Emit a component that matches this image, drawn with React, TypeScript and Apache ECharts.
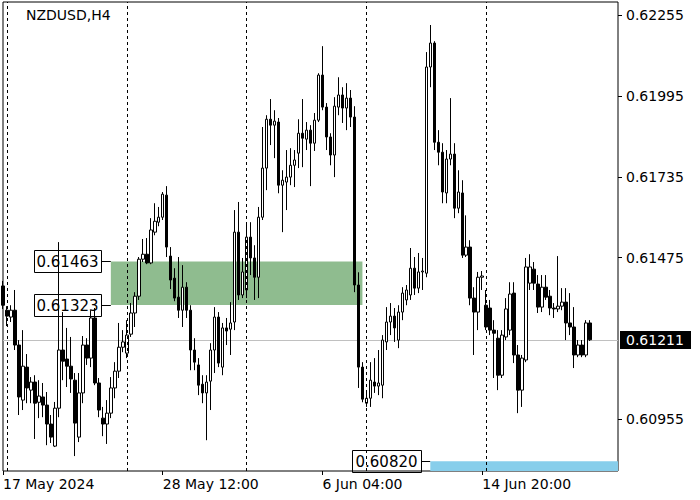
import React, { useEffect, useRef } from "react";
import * as echarts from "echarts";

const symbolTitle = "NZDUSD,H4";

const opens = [
  0.61384, 0.61306, 0.61284, 0.61306, 0.61194, 0.61017, 0.61123, 0.61049, 0.61075, 0.61010,
  0.61027, 0.61001, 0.60940, 0.60869, 0.60991, 0.61178, 0.61149, 0.61126, 0.61081, 0.60898,
  0.61040, 0.61194, 0.61152, 0.61281, 0.61072, 0.60959, 0.60940, 0.60975, 0.61056, 0.61110,
  0.61187, 0.61168, 0.61229, 0.61297, 0.61351, 0.61470, 0.61486, 0.61458, 0.61557, 0.61589,
  0.61605, 0.61676, 0.61480, 0.61409, 0.61348, 0.61306, 0.61380, 0.61306, 0.61178, 0.61130,
  0.61068, 0.61040, 0.61078, 0.61178, 0.61284, 0.61123, 0.61249, 0.61245, 0.61268, 0.61557,
  0.61355, 0.61371, 0.61541, 0.61474, 0.61412, 0.61605, 0.61763, 0.61920, 0.61901, 0.61911,
  0.61708, 0.61718, 0.61734, 0.61772, 0.61811, 0.61875, 0.61856, 0.61885, 0.61843, 0.61917,
  0.62062, 0.61959, 0.61863, 0.61805, 0.61959, 0.61998, 0.61956, 0.61988, 0.61927, 0.61387,
  0.61123, 0.61007, 0.61023, 0.61075, 0.61062, 0.61065, 0.61204, 0.61268, 0.61287, 0.61210,
  0.61300, 0.61339, 0.61355, 0.61441, 0.61377, 0.61429, 0.61425, 0.62088, 0.62165, 0.61846,
  0.61814, 0.61683, 0.61792, 0.61808, 0.61634, 0.61683, 0.61483, 0.61509, 0.61345, 0.61300,
  0.61412, 0.61322, 0.61313, 0.61242, 0.61216, 0.61097, 0.61220, 0.61242, 0.61361, 0.61162,
  0.61049, 0.61146, 0.61393, 0.61438, 0.61390, 0.61316, 0.61380, 0.61351, 0.61313, 0.61310,
  0.61319, 0.61332, 0.61265, 0.61252, 0.61162, 0.61194, 0.61162, 0.61265,
];

const closes = [
  0.61322, 0.61287, 0.61306, 0.61194, 0.61027, 0.61126, 0.61056, 0.61075, 0.61007, 0.61030,
  0.61001, 0.60940, 0.60898, 0.60991, 0.61178, 0.61142, 0.61126, 0.61085, 0.60943, 0.61040,
  0.61194, 0.61152, 0.61281, 0.61072, 0.60985, 0.60940, 0.60975, 0.61056, 0.61110, 0.61187,
  0.61204, 0.61226, 0.61297, 0.61351, 0.61470, 0.61486, 0.61458, 0.61564, 0.61592, 0.61605,
  0.61679, 0.61509, 0.61403, 0.61345, 0.61306, 0.61380, 0.61306, 0.61178, 0.61139, 0.61065,
  0.61040, 0.61075, 0.61178, 0.61284, 0.61136, 0.61249, 0.61239, 0.61265, 0.61557, 0.61355,
  0.61429, 0.61541, 0.61474, 0.61412, 0.61605, 0.61763, 0.61920, 0.61901, 0.61914, 0.61708,
  0.61724, 0.61734, 0.61772, 0.61789, 0.61875, 0.61859, 0.61885, 0.61843, 0.61917, 0.62062,
  0.61959, 0.61863, 0.61805, 0.61962, 0.61998, 0.61956, 0.61988, 0.61927, 0.61387, 0.61123,
  0.61020, 0.61023, 0.61081, 0.61062, 0.61072, 0.61210, 0.61268, 0.61287, 0.61249, 0.61300,
  0.61361, 0.61371, 0.61441, 0.61377, 0.61429, 0.61432, 0.62088, 0.62165, 0.61846, 0.61814,
  0.61686, 0.61792, 0.61808, 0.61634, 0.61686, 0.61483, 0.61509, 0.61345, 0.61300, 0.61412,
  0.61416, 0.61252, 0.61242, 0.61232, 0.61097, 0.61226, 0.61310, 0.61358, 0.61162, 0.61049,
  0.61152, 0.61445, 0.61445, 0.61393, 0.61316, 0.61380, 0.61348, 0.61313, 0.61310, 0.61319,
  0.61332, 0.61265, 0.61252, 0.61162, 0.61194, 0.61162, 0.61265, 0.61211,
];

const highs = [
  0.61400, 0.61319, 0.61322, 0.61371, 0.61210, 0.61242, 0.61165, 0.61091, 0.61097, 0.61081,
  0.61072, 0.61043, 0.60969, 0.61011, 0.61525, 0.61300, 0.61249, 0.61220, 0.61104, 0.61104,
  0.61223, 0.61216, 0.61306, 0.61313, 0.61088, 0.60995, 0.61017, 0.61091, 0.61139, 0.61265,
  0.61242, 0.61274, 0.61329, 0.61364, 0.61477, 0.61535, 0.61538, 0.61602, 0.61650, 0.61638,
  0.61686, 0.61705, 0.61509, 0.61441, 0.61477, 0.61451, 0.61396, 0.61322, 0.61216, 0.61152,
  0.61097, 0.61097, 0.61200, 0.61316, 0.61300, 0.61265, 0.61281, 0.61332, 0.61628, 0.61654,
  0.61474, 0.61589, 0.61589, 0.61515, 0.61638, 0.61895, 0.61933, 0.61985, 0.61949, 0.61924,
  0.61756, 0.61821, 0.61827, 0.61821, 0.61920, 0.61985, 0.61911, 0.61901, 0.61940, 0.62068,
  0.62155, 0.61972, 0.61875, 0.61991, 0.62055, 0.62023, 0.62036, 0.62014, 0.61962, 0.61428,
  0.61139, 0.61040, 0.61139, 0.61152, 0.61178, 0.61226, 0.61316, 0.61329, 0.61313, 0.61322,
  0.61380, 0.61387, 0.61506, 0.61477, 0.61490, 0.61474, 0.62136, 0.62223, 0.62171, 0.61885,
  0.61843, 0.61821, 0.61988, 0.61843, 0.61756, 0.61724, 0.61611, 0.61531, 0.61380, 0.61429,
  0.61432, 0.61371, 0.61339, 0.61274, 0.61242, 0.61242, 0.61345, 0.61396, 0.61396, 0.61194,
  0.61162, 0.61474, 0.61486, 0.61461, 0.61419, 0.61419, 0.61419, 0.61371, 0.61329, 0.61480,
  0.61377, 0.61377, 0.61361, 0.61316, 0.61210, 0.61210, 0.61274, 0.61274,
];

const lows = [
  0.61310, 0.61255, 0.61268, 0.61178, 0.60969, 0.60985, 0.61007, 0.61007, 0.60892, 0.60959,
  0.60962, 0.60872, 0.60879, 0.60866, 0.60962, 0.61081, 0.61059, 0.61040, 0.60837, 0.60882,
  0.61007, 0.61130, 0.61123, 0.61065, 0.60962, 0.60901, 0.60876, 0.60959, 0.61023, 0.61088,
  0.61171, 0.61152, 0.61220, 0.61252, 0.61339, 0.61461, 0.61454, 0.61454, 0.61547, 0.61576,
  0.61596, 0.61477, 0.61374, 0.61335, 0.61281, 0.61252, 0.61281, 0.61113, 0.61113, 0.61033,
  0.61007, 0.60888, 0.60985, 0.61104, 0.61123, 0.61097, 0.61194, 0.61162, 0.61242, 0.61339,
  0.61345, 0.61345, 0.61419, 0.61339, 0.61345, 0.61596, 0.61692, 0.61837, 0.61795, 0.61682,
  0.61557, 0.61628, 0.61708, 0.61702, 0.61763, 0.61766, 0.61821, 0.61705, 0.61818, 0.61911,
  0.61949, 0.61821, 0.61772, 0.61734, 0.61933, 0.61908, 0.61885, 0.61895, 0.61364, 0.61056,
  0.61010, 0.60995, 0.60995, 0.61040, 0.61033, 0.61023, 0.61178, 0.61226, 0.61204, 0.61184,
  0.61274, 0.61322, 0.61339, 0.61355, 0.61361, 0.61371, 0.61412, 0.62023, 0.61821, 0.61772,
  0.61650, 0.61650, 0.61772, 0.61602, 0.61618, 0.61474, 0.61477, 0.61322, 0.61162, 0.61242,
  0.61371, 0.61242, 0.61226, 0.61088, 0.61049, 0.61088, 0.61210, 0.61226, 0.61136, 0.60975,
  0.60995, 0.61139, 0.61371, 0.61371, 0.61297, 0.61300, 0.61339, 0.61290, 0.61281, 0.61300,
  0.61306, 0.61210, 0.61226, 0.61120, 0.61155, 0.61155, 0.61155, 0.61207,
];

const slotCount = 155;
const xTickIndex = [0, 40, 80, 120];
const xTickLabels = ["17 May 2024", "28 May 12:00", "6 Jun 04:00", "14 Jun 20:00"];
const weekSeparators = [1, 31, 61, 91, 121];
const yTicks = [0.60955, 0.61475, 0.61735, 0.61995, 0.62255];
const yMin = 0.60789;
const yMax = 0.62297;
const bidPrice = 0.61211;
const greenLevels = [0.61463, 0.61323];
const greenBars = [27, 90];
const blueLevel = 0.6082;
const blueBars = [107, 154];

const FONT = '"DejaVu Sans", Verdana, sans-serif';

export default function App() {
  const ref = useRef<HTMLDivElement>(null);

  useEffect(() => {
    document.body.style.margin = "0";
    if (!ref.current) return;
    const chart = echarts.init(ref.current, undefined, { renderer: "svg" });
    const categories = Array.from({ length: slotCount }, (_, i) => String(i));
    const candles = opens.map((o, i) => [o, closes[i], lows[i], highs[i]]);

    const option: any = {
      animation: false,
      backgroundColor: "#ffffff",
      grid: {
        left: 3,
        top: 2,
        width: 615,
        height: 469,
        show: true,
        borderColor: "#000",
        borderWidth: 1,
        backgroundColor: "#fff",
      },
      xAxis: {
        type: "category",
        data: categories,
        boundaryGap: false,
        axisLine: { show: false },
        axisTick: {
          show: true,
          length: 4,
          interval: (i: number) => xTickIndex.includes(i),
          lineStyle: { color: "#000" },
        },
        axisLabel: {
          show: true,
          interval: (i: number) => xTickIndex.includes(i),
          formatter: (v: string) => {
            const k = xTickIndex.indexOf(Number(v));
            return k >= 0 ? xTickLabels[k] : "";
          },
          align: "left",
          margin: 6,
          color: "#000",
          fontSize: 14,
          fontFamily: FONT,
        },
        splitLine: { show: false },
      },
      yAxis: {
        type: "value",
        position: "right",
        min: yMin,
        max: yMax,
        axisLine: { show: false },
        axisTick: {
          show: true,
          length: 4,
          customValues: yTicks,
          lineStyle: { color: "#000" },
        },
        axisLabel: {
          customValues: yTicks,
          formatter: (v: number) => v.toFixed(5),
          margin: 8,
          color: "#000",
          fontSize: 14,
          fontFamily: FONT,
        },
        splitLine: { show: false },
      },
      series: [
        {
          type: "line",
          data: [],
          silent: true,
          z: 1,
          markArea: {
            silent: true,
            data: [
              [
                { xAxis: String(greenBars[0]), yAxis: greenLevels[0], itemStyle: { color: "#8fbc8f", opacity: 1 } },
                { xAxis: String(greenBars[1]), yAxis: greenLevels[1] },
              ],
              [
                { xAxis: String(blueBars[0]), yAxis: blueLevel, itemStyle: { color: "#87ceeb", opacity: 1 } },
                { xAxis: String(blueBars[1]), yAxis: yMin },
              ],
            ],
          },
          markLine: {
            silent: true,
            symbol: ["none", "none"],
            label: { show: false },
            lineStyle: { color: "#000", type: [3, 3], width: 1 },
            data: weekSeparators.map((i) => ({ xAxis: String(i) })),
          },
        },
        {
          type: "candlestick",
          data: candles,
          barWidth: 3,
          z: 3,
          itemStyle: {
            color: "#ffffff",
            color0: "#000000",
            borderColor: "#000000",
            borderColor0: "#000000",
            borderWidth: 1,
          },
        },
      ],
    };
    chart.setOption(option);

    const px = (i: number, v: number) =>
      chart.convertToPixel({ xAxisIndex: 0, yAxisIndex: 0 }, [i, v]) as number[];

    const graphics: any[] = [];
    graphics.push({
      type: "text",
      style: { text: symbolTitle, x: 26, y: 15, fill: "#000", font: `14px ${FONT}`, verticalAlign: "middle" },
    });

    const pbid = px(0, bidPrice);
    const pbidEnd = px(slotCount - 1, bidPrice);
    const yb = Math.round(pbid[1]) + 0.5;
    graphics.push({
      type: "line",
      z: 0,
      shape: { x1: pbid[0], y1: yb, x2: pbidEnd[0], y2: yb },
      style: { stroke: "#c0c0c0", lineWidth: 1 },
    });

    const addBox = (xRight: number, yc: number, w: number, label: string, xTo: number) => {
      const y = Math.round(yc);
      const xr = Math.round(xRight);
      graphics.push({
        type: "rect",
        shape: { x: xr - w + 0.5, y: y - 11 + 0.5, width: w, height: 22 },
        style: { fill: "none", stroke: "#000", lineWidth: 1 },
      });
      graphics.push({
        type: "text",
        style: { text: label, x: xr - w / 2, y: y + 1, fill: "#000", font: `15px ${FONT}`, align: "center", verticalAlign: "middle" },
      });
      graphics.push({
        type: "line",
        shape: { x1: xr + 0.5, y1: y + 0.5, x2: xTo, y2: y + 0.5 },
        style: { stroke: "#000", lineWidth: 1 },
      });
    };

    greenLevels.forEach((lv) => {
      const p = px(greenBars[0], lv);
      addBox(p[0] - 10, p[1], 67, lv.toFixed(5), p[0]);
    });
    const pb = px(blueBars[0], blueLevel);
    addBox(pb[0] - 9, pb[1], 69, blueLevel.toFixed(5), pb[0]);

    graphics.push({
      type: "rect",
      shape: { x: 620, y: Math.round(pbid[1]) - 9, width: 71, height: 18 },
      style: { fill: "#000" },
    });
    graphics.push({
      type: "text",
      style: { text: bidPrice.toFixed(5), x: 626, y: Math.round(pbid[1]), fill: "#fff", font: `14px ${FONT}`, verticalAlign: "middle" },
    });

    chart.setOption({ graphic: graphics });

    return () => chart.dispose();
  }, []);

  return <div ref={ref} style={{ width: 700, height: 500 }} />;
}
